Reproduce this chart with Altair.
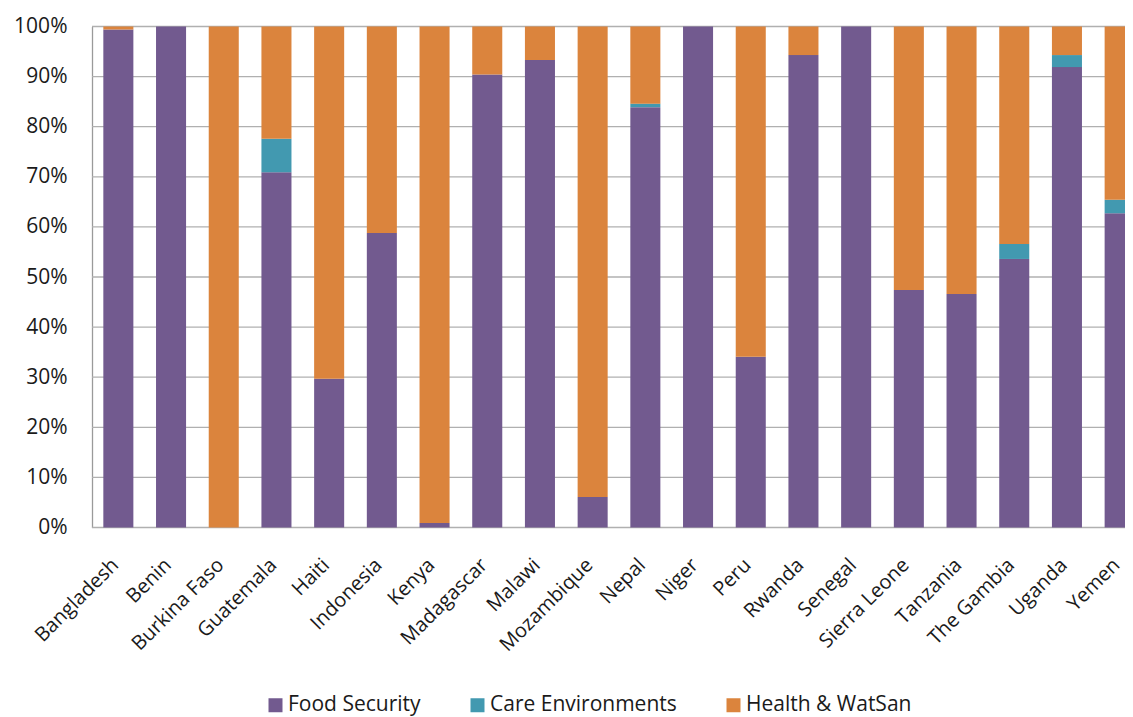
import altair as alt
import pandas as pd

countries = ["Bangladesh", "Benin", "Burkina Faso", "Guatemala", "Haiti", "Indonesia",
             "Kenya", "Madagascar", "Malawi", "Mozambique", "Nepal", "Niger", "Peru",
             "Rwanda", "Senegal", "Sierra Leone", "Tanzania", "The Gambia", "Uganda", "Yemen"]
food_security = [99.4, 100, 0, 70.9, 29.7, 58.8, 0.9, 90.4, 93.3, 6.1, 83.9, 100, 34.1,
                 94.3, 100, 47.4, 46.6, 53.6, 91.9, 62.7]
care_env = [0, 0, 0, 6.7, 0, 0, 0, 0, 0, 0, 0.7, 0, 0, 0, 0, 0, 0, 3.0, 2.4, 2.7]
health_watsan = [0.6, 0, 100, 22.4, 70.3, 41.2, 99.1, 9.6, 6.7, 93.9, 15.4, 0, 65.9,
                 5.7, 0, 52.6, 53.4, 43.4, 5.7, 34.6]
series = ["Food Security", "Care Environments", "Health & WatSan"]
colors = ["#725A8F", "#4299B0", "#DB843D"]
y_ticks = [0, 10, 20, 30, 40, 50, 60, 70, 80, 90, 100]

rows = []
for i, c in enumerate(countries):
    for k, (s, vals) in enumerate(zip(series, [food_security, care_env, health_watsan])):
        rows.append({"country": c, "series": s, "value": vals[i], "order": k})
df = pd.DataFrame(rows)
grid_df = pd.DataFrame({"v": y_ticks})

FONT = "Open Sans"
TXT = "#1a1a1a"
yscale = alt.Scale(domain=[0, 100], nice=False)
yaxis = alt.Axis(title=None, values=y_ticks, labelExpr="datum.value + '%'",
                 grid=False, ticks=False, domainColor="#9A9A9A", domainWidth=1.3,
                 labelFontSize=21, labelFont=FONT, labelColor=TXT, labelPadding=25)

grid = alt.Chart(grid_df).mark_rule(color="#B0B0B0", strokeWidth=1.3).encode(
    y=alt.Y("v:Q", scale=yscale, axis=yaxis),
    x=alt.value(0),
    x2=alt.value(1054),
)

bars = alt.Chart(df).mark_bar(opacity=1).encode(
    x=alt.X("country:N", sort=countries,
            scale=alt.Scale(range=[0, 1054], paddingInner=0.43, paddingOuter=0.215),
            axis=alt.Axis(title=None, labelAngle=-45, ticks=False, domain=False,
                          labelFontSize=20, labelFont=FONT, labelColor=TXT,
                          labelPadding=27, labelOffset=-10)),
    y=alt.Y("value:Q", stack="zero", scale=yscale, axis=yaxis),
    color=alt.Color("series:N", sort=series,
                    scale=alt.Scale(domain=series, range=colors),
                    legend=alt.Legend(title=None, orient="none", direction="horizontal",
                                      legendX=173, legendY=668, symbolType="square",
                                      symbolSize=196, symbolStrokeWidth=0,
                                      labelFontSize=21, labelFont=FONT, labelColor=TXT,
                                      labelLimit=0, columnPadding=46, labelOffset=2)),
    order=alt.Order("order:Q"),
)

chart = alt.layer(grid, bars).properties(
    width=1033, height=501,
    autosize=alt.AutoSizeParams(type="none"),
    padding={"left": 84, "top": 18.5, "right": 0, "bottom": 190},
).configure_view(stroke=None)

chart.save("out.html", embed_options={"renderer": "svg", "actions": False})
